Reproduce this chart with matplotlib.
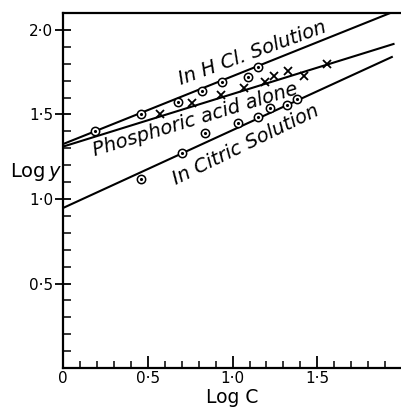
import matplotlib
matplotlib.use("Agg")
import matplotlib.pyplot as plt
import numpy as np

# observed points (log C, log y)
hcl_x = [0.19, 0.46, 0.68, 0.82, 0.94, 1.09, 1.15]
hcl_y = [1.40, 1.50, 1.575, 1.64, 1.69, 1.72, 1.78]

phos_x = [0.57, 0.76, 0.93, 1.07, 1.19, 1.245, 1.33, 1.42, 1.56]
phos_y = [1.50, 1.565, 1.615, 1.655, 1.69, 1.73, 1.755, 1.73, 1.80]

cit_x = [0.46, 0.70, 0.84, 1.03, 1.15, 1.22, 1.32, 1.38]
cit_y = [1.12, 1.27, 1.39, 1.45, 1.485, 1.54, 1.555, 1.59]

# fitted straight lines (end points)
hcl_line_x = [0.0, 1.93]
hcl_line_y = [1.325, 2.10]
phos_line_x = [0.0, 1.95]
phos_line_y = [1.31, 1.917]
cit_line_x = [0.0, 1.94]
cit_line_y = [0.947, 1.84]

xtick_vals = [0, 0.5, 1.0, 1.5]
xtick_labels = ['0', '0·5', '1·0', '1·5']
ytick_vals = [0.5, 1.0, 1.5, 2.0]
ytick_labels = ['0·5', '1·0', '1·5', '2·0']

fig = plt.figure(figsize=(4.02, 4.08), dpi=100)
ax = fig.add_axes([0.157, 0.098, 0.843, 0.870])

lw = 1.5
ax.plot(hcl_line_x, hcl_line_y, color='black', lw=lw)
ax.plot(phos_line_x, phos_line_y, color='black', lw=lw)
ax.plot(cit_line_x, cit_line_y, color='black', lw=lw)

# circle-with-dot markers
for xs, ys in [(hcl_x, hcl_y), (cit_x, cit_y)]:
    ax.plot(xs, ys, 'o', ms=6, mfc='white', mec='black', mew=1.1, zorder=3)
    ax.plot(xs, ys, '.', ms=2.5, color='black', zorder=4)
ax.plot(phos_x, phos_y, 'x', ms=6, mew=1.3, color='black', zorder=3)

ax.set_xlim(0, 2.0)
ax.set_ylim(0, 2.1)

ax.set_xticks(xtick_vals)
ax.set_xticklabels(xtick_labels)
ax.set_yticks(ytick_vals)
ax.set_yticklabels(ytick_labels)
ax.set_xticks(np.arange(0, 2.01, 0.1), minor=True)
ax.set_yticks(np.arange(0, 2.11, 0.1), minor=True)
ax.tick_params(axis='x', which='major', direction='in', length=9, width=1.3,
               labelsize=11, pad=2)
ax.tick_params(axis='x', which='minor', direction='in', length=5, width=1.1)
ax.tick_params(axis='y', which='major', direction='inout', length=12, width=1.3,
               labelsize=11, pad=1)
ax.tick_params(axis='y', which='minor', direction='in', length=6, width=1.1)

ax.spines['right'].set_visible(False)
for s in ['left', 'bottom', 'top']:
    ax.spines[s].set_linewidth(1.6)

# curve labels
ax.text(1.12, 1.86, 'In H Cl. Solution', rotation=20, style='italic',
        fontsize=14, ha='center', va='center')
ax.text(0.78, 1.47, 'Phosphoric acid alone', rotation=17, style='italic',
        fontsize=14, ha='center', va='center')
ax.text(1.08, 1.32, 'In Citric Solution', rotation=26, style='italic',
        fontsize=14, ha='center', va='center')

fig.text(0.09, 0.578, 'Log$\\,y$', fontsize=14, ha='center', va='center')
fig.text(0.577, 0.026, 'Log C', fontsize=13.5, ha='center', va='center')

fig.savefig('out.png', dpi=100, facecolor='white')
